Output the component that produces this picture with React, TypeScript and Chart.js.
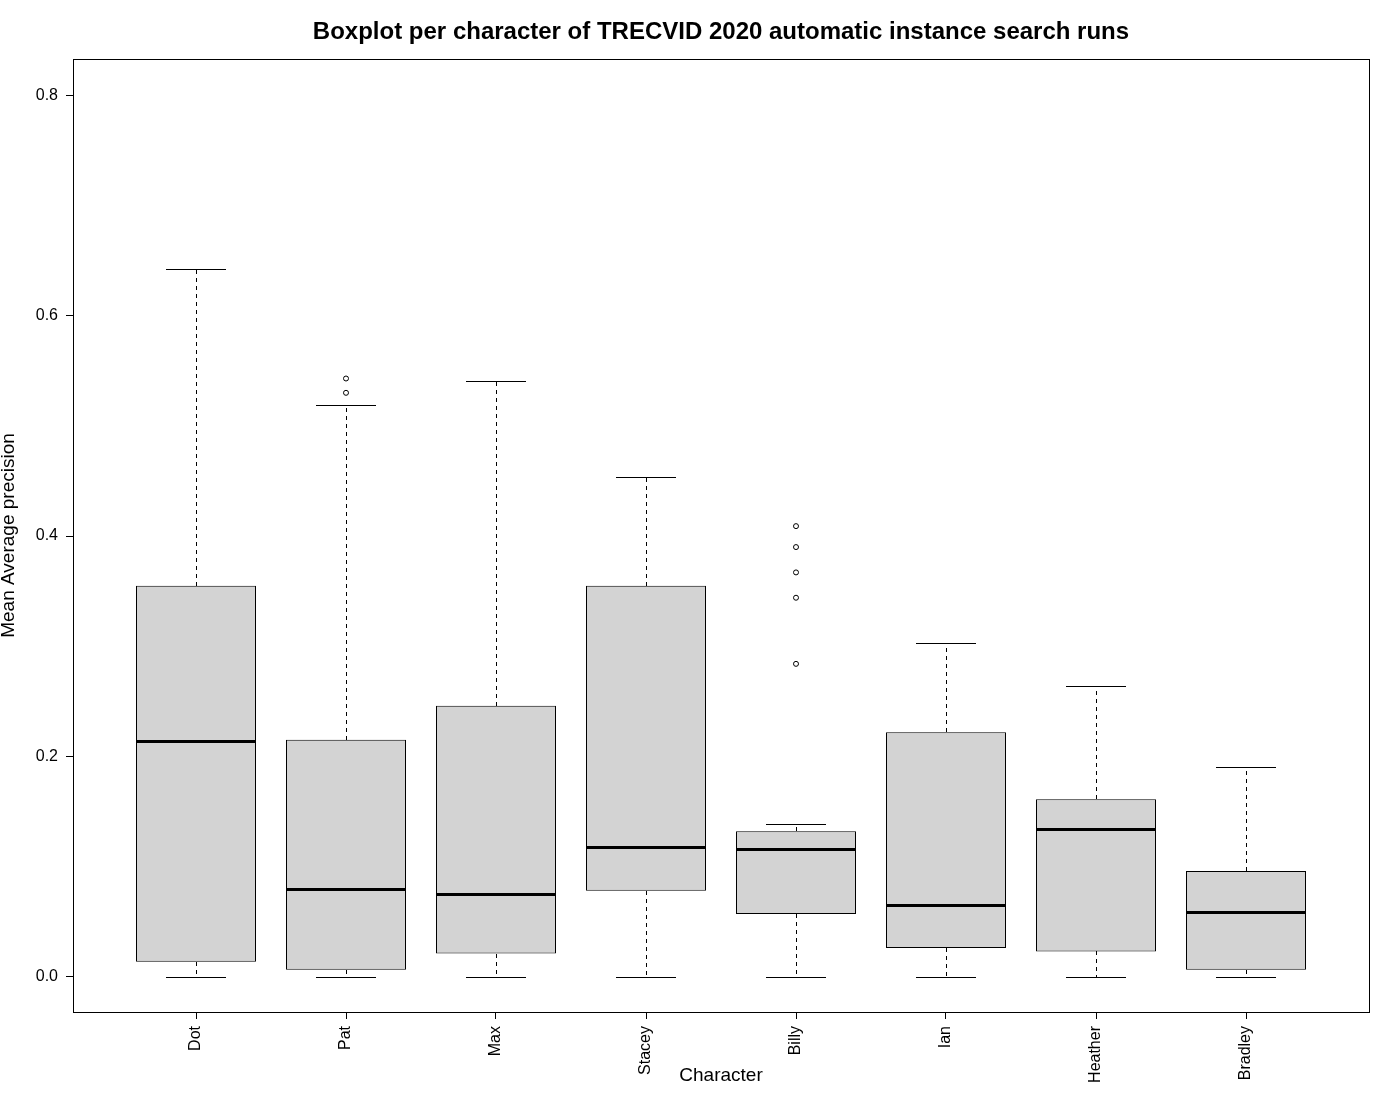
import { useEffect, useRef } from "react"
import { Chart, registerables } from "chart.js"

Chart.register(...registerables)

const characters = ["Dot", "Pat", "Max", "Stacey", "Billy", "Ian", "Heather", "Bradley"]
const whiskerLow = [0, 0, 0, 0, 0, 0, 0, 0]
const quartile1 = [0.0136, 0.0063, 0.021, 0.078, 0.057, 0.026, 0.023, 0.0063]
const medians = [0.214, 0.08, 0.075, 0.118, 0.116, 0.065, 0.134, 0.059]
const quartile3 = [0.355, 0.215, 0.246, 0.355, 0.132, 0.222, 0.161, 0.096]
const whiskerHigh = [0.642, 0.519, 0.541, 0.454, 0.139, 0.303, 0.264, 0.19]
const outlierCharacter = ["Pat", "Pat", "Billy", "Billy", "Billy", "Billy", "Billy"]
const outlierValues = [0.543, 0.53, 0.409, 0.39, 0.367, 0.344, 0.284]
const yTicks = [0, 0.2, 0.4, 0.6, 0.8]

const FONT = "'Liberation Sans', Arial, Helvetica, sans-serif"

// snap a 1px line onto the pixel grid so it stays crisp
const crisp = (v: number) => Math.round(v) + 0.5

// whiskers, caps, medians and the frame round the plot
const boxplotPlugin = {
  id: "boxplotExtras",
  afterDatasetsDraw(chart: any) {
    const { ctx, chartArea, scales } = chart
    const x = scales.x
    const y = scales.y
    ctx.save()
    ctx.strokeStyle = "#000"
    characters.forEach((_, i) => {
      const pos = i + 1
      const cx = crisp(x.getPixelForValue(pos))
      const capL = Math.round(x.getPixelForValue(pos - 0.2))
      const capR = Math.round(x.getPixelForValue(pos + 0.2))
      const boxL = Math.round(x.getPixelForValue(pos - 0.4))
      const boxR = Math.round(x.getPixelForValue(pos + 0.4))
      const hi = crisp(y.getPixelForValue(whiskerHigh[i]))
      const lo = crisp(y.getPixelForValue(whiskerLow[i]))

      ctx.lineWidth = 1
      ctx.setLineDash([4, 4])
      ctx.beginPath()
      ctx.moveTo(cx, Math.round(y.getPixelForValue(quartile3[i])))
      ctx.lineTo(cx, hi)
      ctx.moveTo(cx, Math.round(y.getPixelForValue(quartile1[i])))
      ctx.lineTo(cx, lo)
      ctx.stroke()

      ctx.setLineDash([])
      ctx.beginPath()
      ctx.moveTo(capL, hi)
      ctx.lineTo(capR, hi)
      ctx.moveTo(capL, lo)
      ctx.lineTo(capR, lo)
      ctx.stroke()

      ctx.lineWidth = 3
      const med = crisp(y.getPixelForValue(medians[i]))
      ctx.beginPath()
      ctx.moveTo(boxL, med)
      ctx.lineTo(boxR, med)
      ctx.stroke()
    })
    ctx.lineWidth = 1
    const l = crisp(chartArea.left)
    const t = crisp(chartArea.top)
    const r = crisp(chartArea.right)
    const b = crisp(chartArea.bottom)
    ctx.strokeRect(l, t, r - l, b - t)
    ctx.restore()
  },
}

export default function App() {
  const chartRef = useRef<HTMLCanvasElement>(null)
  const chartInstance = useRef<Chart | null>(null)

  useEffect(() => {
    document.body.style.margin = "0"
    if (!chartRef.current) return
    if (chartInstance.current) chartInstance.current.destroy()
    const ctx = chartRef.current.getContext("2d")
    if (!ctx) return

    chartInstance.current = new Chart(ctx, {
      type: "bar",
      data: {
        datasets: [
          {
            type: "bar",
            label: "box",
            data: characters.map((_, i) => ({ x: i + 1, y: [quartile1[i], quartile3[i]] })) as any,
            backgroundColor: "#D3D3D3",
            borderColor: "#000",
            borderWidth: 1,
            borderSkipped: false,
            categoryPercentage: 1,
            barPercentage: 0.8,
          },
          {
            type: "scatter",
            label: "outliers",
            data: outlierValues.map((v, i) => ({
              x: characters.indexOf(outlierCharacter[i]) + 1,
              y: v,
            })),
            pointStyle: "circle",
            pointRadius: 2.5,
            pointBorderWidth: 1,
            pointBorderColor: "#000",
            pointBackgroundColor: "#fff",
          } as any,
        ],
      },
      options: {
        animation: false,
        responsive: false,
        layout: { padding: { left: 0, right: 31, top: 0, bottom: 0 } },
        scales: {
          x: {
            type: "linear",
            min: 0.18,
            max: 8.82,
            offset: false,
            afterBuildTicks: (scale: any) => {
              scale.ticks = characters.map((_, i) => ({ value: i + 1 }))
            },
            afterFit: (scale: any) => {
              scale.height = 88
            },
            grid: {
              display: true,
              offset: false,
              drawOnChartArea: false,
              drawTicks: true,
              tickLength: 7,
              color: "#000",
            },
            border: { display: false },
            ticks: {
              autoSkip: false,
              minRotation: 90,
              maxRotation: 90,
              padding: 7,
              color: "#000",
              font: { family: FONT, size: 16 },
              callback: (value: any) => characters[Number(value) - 1] ?? "",
            },
            title: {
              display: true,
              text: "Character",
              color: "#000",
              font: { family: FONT, size: 19 },
              padding: { top: 0, bottom: 13 },
            },
          },
          y: {
            type: "linear",
            min: -0.032,
            max: 0.833,
            afterBuildTicks: (scale: any) => {
              scale.ticks = yTicks.map((v) => ({ value: v }))
            },
            afterFit: (scale: any) => {
              scale.width = 73
            },
            grid: {
              display: true,
              drawOnChartArea: false,
              drawTicks: true,
              tickLength: 7,
              color: "#000",
            },
            border: { display: false },
            ticks: {
              padding: 8,
              color: "#000",
              font: { family: FONT, size: 16 },
              callback: (value: any) => Number(value).toFixed(1),
            },
            title: {
              display: true,
              text: "Mean Average precision",
              color: "#000",
              font: { family: FONT, size: 19 },
              padding: { top: -3, bottom: 0 },
            },
          },
        },
        plugins: {
          legend: { display: false },
          tooltip: { enabled: false },
          title: {
            display: true,
            fullSize: false,
            text: "Boxplot per character of TRECVID 2020 automatic instance search runs",
            color: "#000",
            font: { family: FONT, size: 24, weight: "bold", lineHeight: 1.2 },
            padding: { top: 18.4, bottom: 11.8 },
          },
        },
      },
      plugins: [boxplotPlugin],
    })

    return () => {
      if (chartInstance.current) {
        chartInstance.current.destroy()
        chartInstance.current = null
      }
    }
  }, [])

  return (
    <div style={{ width: 1400, height: 1100 }}>
      <canvas ref={chartRef} width={1400} height={1100} />
    </div>
  )
}
